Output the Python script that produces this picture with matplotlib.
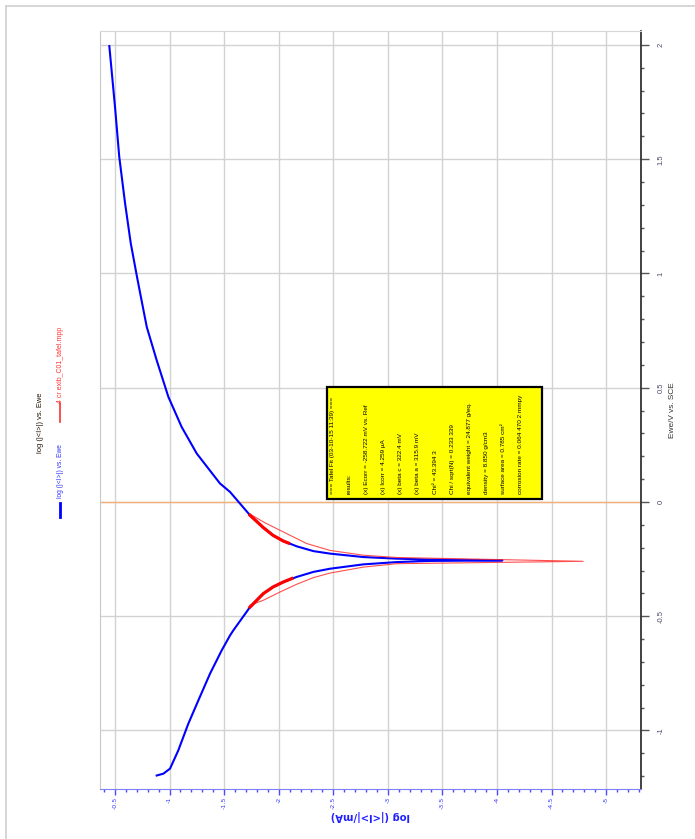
import matplotlib.pyplot as plt
from matplotlib.lines import Line2D
from matplotlib.patches import Rectangle
from matplotlib.ticker import MultipleLocator, FuncFormatter
from matplotlib import font_manager

plt.rcParams['axes.unicode_minus'] = False

# narrow font if there is one
names = {f.name for f in font_manager.fontManager.ttflist}
narrow = 'Liberation Sans Narrow' if 'Liberation Sans Narrow' in names else 'Liberation Sans'
shrink = 1.0 if narrow == 'Liberation Sans Narrow' else 0.85

# measured curve: log(|I|/mA) against Ewe (V vs. SCE), scan from -1.2 V to 2 V
ewe_meas = [-1.197, -1.189, -1.167, -1.087, -0.970, -0.868, -0.751, -0.649,
            -0.584, -0.562, -0.460, -0.401, -0.372, -0.350, -0.328, -0.306,
            -0.292, -0.273, -0.263, -0.258, -0.2555, -0.252, -0.248, -0.241,
            -0.226, -0.215, -0.194, -0.171, -0.146, -0.112, -0.058, 0.044,
            0.081, 0.212, 0.328, 0.460, 0.620, 0.766, 0.883, 0.979, 1.133,
            1.308, 1.510, 1.729, 1.995]
logi_meas = [-0.882, -0.943, -1.004, -1.080, -1.172, -1.264, -1.371, -1.478,
             -1.554, -1.584, -1.737, -1.859, -1.948, -2.043, -2.165, -2.318,
             -2.471, -2.776, -3.082, -3.387, -4.05, -3.387, -3.082, -2.776,
             -2.471, -2.318, -2.165, -2.043, -1.948, -1.859, -1.737, -1.554,
             -1.462, -1.249, -1.111, -0.989, -0.882, -0.791, -0.743, -0.704,
             -0.644, -0.592, -0.539, -0.500, -0.448]

# points used for the Tafel fit (thick red)
ewe_fit_c = [-0.460, -0.401, -0.372, -0.350, -0.335]
logi_fit_c = [-1.737, -1.859, -1.948, -2.043, -2.120]
ewe_fit_a = [-0.180, -0.171, -0.146, -0.112, -0.058]
logi_fit_a = [-2.090, -2.043, -1.948, -1.859, -1.737]

# Tafel fit curve (thin red)
ewe_tafel = [-0.452, -0.430, -0.394, -0.360, -0.331, -0.311, -0.285, -0.270,
             -0.2596, -0.2596, -0.243, -0.233, -0.212, -0.182, -0.124, -0.090,
             -0.053]
logi_tafel = [-1.737, -1.859, -2.012, -2.165, -2.318, -2.471, -2.776, -3.082,
              -4.79, -4.79, -3.082, -2.776, -2.471, -2.257, -2.012, -1.870,
              -1.737]

results = [
    '=== Tafel Fit (03-10-15 11:39) ===',
    'results:',
    '(x) Ecorr = -258.722 mV vs. Ref',
    '(x) Icorr = 4.259 µA',
    '(x) beta c = 322.4 mV',
    '(x) beta a = 315.9 mV',
    'Chi² = 43.394 3',
    'Chi / sqrt(N) = 0.233 339',
    'equivalent weight = 24.877 g/eq.',
    'density = 8.850 g/cm3',
    'surface area = 0.785 cm²',
    'corrosion rate = 0.064 470 2 mmpy',
]

W, H = 695, 839
fig = plt.figure(figsize=(W / 100, H / 100), dpi=100)


def fx(px):
    return px / W


def fy(py):
    return 1 - py / H


# the chart is shown turned a quarter: current across, potential up
ax = fig.add_axes([fx(100), fy(789), (641 - 100) / W, (789 - 31) / H])
ax.plot(logi_meas, ewe_meas, color='#0000ff', lw=1.5, zorder=3)
ax.plot(logi_tafel, ewe_tafel, color='#ff3030', lw=0.8, alpha=0.85, zorder=4)
ax.plot(logi_fit_c, ewe_fit_c, color='#ff0000', lw=2.3, zorder=5)
ax.plot(logi_fit_a, ewe_fit_a, color='#ff0000', lw=2.3, zorder=5)
ax.axhline(0, color='#f5b07a', lw=1, zorder=2)

ax.set_xlim(-0.3625, -5.32)
ax.set_ylim(-1.256, 2.061)

fmt = FuncFormatter(lambda v, p: '%g' % round(v, 2))
ax.xaxis.set_major_locator(MultipleLocator(0.5))
ax.xaxis.set_minor_locator(MultipleLocator(0.1))
ax.yaxis.set_major_locator(MultipleLocator(0.5))
ax.yaxis.set_minor_locator(MultipleLocator(0.1))
ax.xaxis.set_major_formatter(fmt)
ax.yaxis.set_major_formatter(fmt)
ax.yaxis.tick_right()

ax.tick_params(axis='x', which='major', length=4, width=1, color='#4a4aff',
               labelcolor='#3a3aff', labelsize=4.6, labelrotation=90, pad=1.5)
ax.tick_params(axis='x', which='minor', length=2, width=1, color='#4a4aff')
ax.tick_params(axis='y', which='major', length=6, width=1, color='#555555',
               labelcolor='#4a4a6a', labelsize=5.5, labelrotation=90, pad=6)
ax.tick_params(axis='y', which='minor', length=2, width=1, color='#555555')
for lab in ax.get_xticklabels():
    lab.set_family('DejaVu Sans')
for lab in ax.get_yticklabels():
    lab.set_family(narrow)
    lab.set_va('center')

ax.grid(which='major', color='#d2d2d2', lw=1, zorder=1)
ax.set_axisbelow(True)
ax.spines['left'].set_color('#c8c8c8')
ax.spines['top'].set_color('#d8d8d8')
ax.spines['right'].set_color('#222222')
ax.spines['right'].set_linewidth(1.2)
ax.spines['bottom'].set_color('#8080ff')

# axis titles
fig.text(fx(370), fy(815), 'log (|<I>|/mA)', rotation=180, ha='center',
         va='center', color='#2020ff', fontsize=7.2, weight='bold',
         family='DejaVu Sans')
fig.text(fx(673), fy(410), 'Ewe/V vs. SCE', rotation=90, ha='center',
         va='center', color='#333333', fontsize=7 * shrink, family=narrow)

# title and legend
fig.text(fx(40), fy(423), 'log (|<I>|) vs. Ewe', rotation=90, ha='center',
         va='center', color='#201000', fontsize=6.4 * shrink, family=narrow)
fig.add_artist(Line2D([fx(60), fx(60)], [fy(422), fy(403)], color='#ff3030',
                      lw=1.2))
fig.text(fx(60), fy(365), '4 cr exib_C01_tafel.mpp', rotation=90, ha='center',
         va='center', color='#ff3030', fontsize=5.9 * shrink, family=narrow)
fig.add_artist(Line2D([fx(60), fx(60)], [fy(517), fy(503)], color='#0000ff',
                      lw=2))
fig.text(fx(60), fy(471), 'log (|<I>|) vs. Ewe', rotation=90, ha='center',
         va='center', color='#3030ff', fontsize=5.6 * shrink, family=narrow)

# fit results box
fig.add_artist(Rectangle((fx(327), fy(499)), (542 - 327) / W, (499 - 387) / H,
                         transform=fig.transFigure, facecolor='#ffff00',
                         edgecolor='black', lw=1.6, zorder=6))
for i, line in enumerate(results):
    fig.text(fx(332.5 + i * 17.1), fy(494), line, rotation=90,
             rotation_mode='anchor', ha='left', va='center', color='black',
             fontsize=5.45 * shrink, family=narrow, zorder=7)

# outer frame
fig.add_artist(Line2D([fx(6), fx(6)], [fy(6), fy(839)], color='#d0d0d0', lw=1.2))
fig.add_artist(Line2D([fx(6), fx(695)], [fy(6), fy(6)], color='#d0d0d0', lw=1.2))

fig.savefig('out.png', dpi=100)
